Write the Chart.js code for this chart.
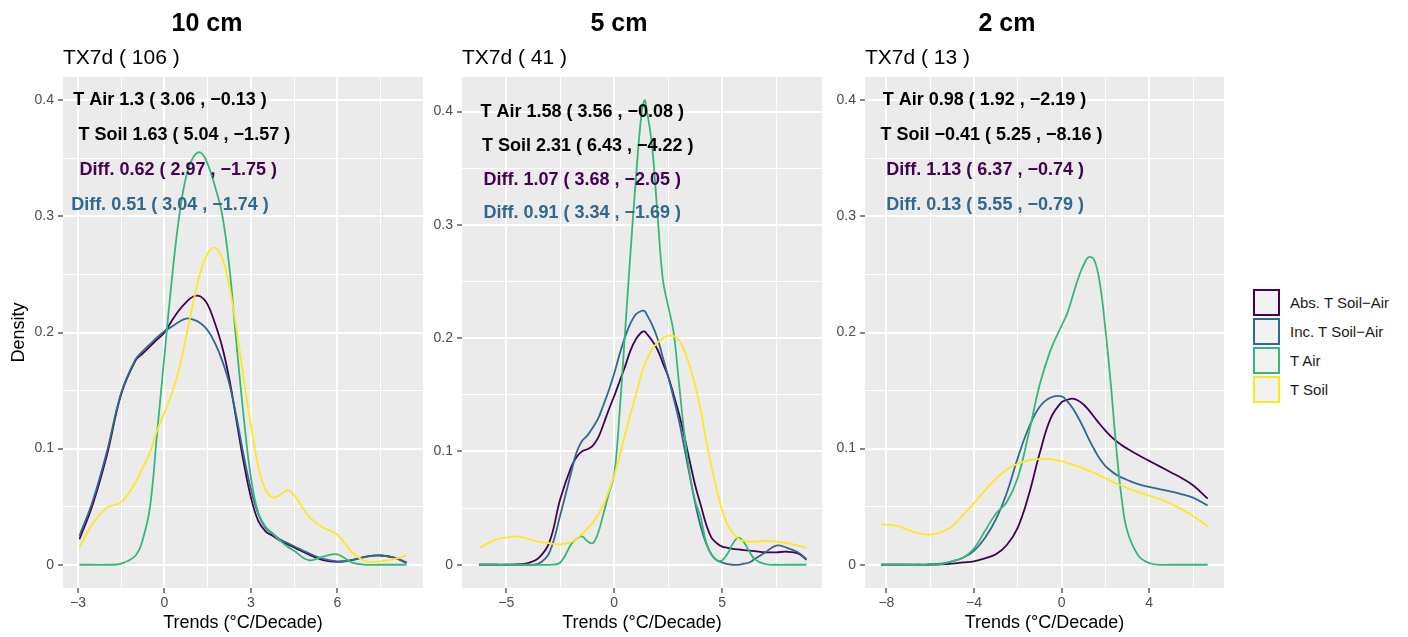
<!DOCTYPE html>
<html>
<head>
<meta charset="utf-8">
<title>TX7d trend densities</title>
<script src="https://cdn.jsdelivr.net/npm/chart.js@4.4.1/dist/chart.umd.min.js"></script>
<style>
  body { margin: 0; background: #ffffff; font-family: "Liberation Sans", Arial, sans-serif; }
  #wrap { position: relative; width: 1408px; height: 637px; overflow: hidden; }
  #wrap canvas { position: absolute; top: 0; }
  .title { position: absolute; top: 8px; font-size: 25px; line-height: 28px; font-weight: bold; transform: translateX(-50%); white-space: nowrap; color: #000; }
  .sub { position: absolute; top: 45px; font-size: 21px; line-height: 24px; white-space: nowrap; color: #000; }
  #legend { position: absolute; left: 1253px; top: 289px; }
  .item { position: relative; height: 29px; width: 150px; }
  .key { position: absolute; left: 0; top: 0; width: 27px; height: 27px; box-sizing: border-box; border: 2px solid; background: #F2F2F2; }
  .lab { position: absolute; left: 37px; top: 0; line-height: 27px; font-size: 15px; color: #1a1a1a; white-space: nowrap; }
</style>
</head>
<body>
<div id="wrap">
  <canvas id="c10" width="440" height="637" style="left:0px"></canvas>
  <canvas id="c5" width="415" height="637" style="left:425px"></canvas>
  <canvas id="c2" width="410" height="637" style="left:830px"></canvas>
  <div id="legend"></div>
</div>
<script>
var seriesNames = ['Abs. T Soil\u2212Air', 'Inc. T Soil\u2212Air', 'T Air', 'T Soil'];
var seriesColors = ['#440154', '#31688E', '#35B779', '#FDE725'];

var depths = ['10 cm', '5 cm', '2 cm'];
var stationCounts = [106, 41, 13];

// 10 cm
var x10 = [-2.95, -2.5, -2, -1.5, -1, -0.75, -0.5, -0.25, 0, 0.25, 0.5, 0.75, 1, 1.25, 1.5, 1.75, 2, 2.25, 2.5, 2.75, 3, 3.25, 3.5, 3.75, 4, 4.25, 4.5, 5, 5.5, 6, 6.5, 7, 7.5, 8, 8.4];
var abs10 = [0.022, 0.051, 0.094, 0.147, 0.176, 0.182, 0.188, 0.194, 0.2, 0.21, 0.219, 0.226, 0.231, 0.231, 0.224, 0.208, 0.188, 0.16, 0.124, 0.088, 0.058, 0.038, 0.029, 0.025, 0.021, 0.018, 0.015, 0.009, 0.004, 0.0025, 0.004, 0.007, 0.008, 0.006, 0.0015];
var inc10 = [0.025, 0.054, 0.097, 0.148, 0.177, 0.184, 0.19, 0.196, 0.201, 0.205, 0.209, 0.212, 0.211, 0.208, 0.202, 0.191, 0.176, 0.156, 0.127, 0.094, 0.065, 0.044, 0.032, 0.027, 0.022, 0.019, 0.016, 0.01, 0.005, 0.003, 0.004, 0.007, 0.008, 0.006, 0.002];
var air10 = [0, 0, 0, 0.001, 0.008, 0.022, 0.05, 0.115, 0.18, 0.244, 0.298, 0.334, 0.351, 0.355, 0.345, 0.326, 0.302, 0.257, 0.19, 0.127, 0.075, 0.045, 0.033, 0.027, 0.021, 0.016, 0.012, 0.004, 0.007, 0.009, 0.002, 0, 0, 0, 0];
var soil10 = [0.015, 0.035, 0.049, 0.054, 0.071, 0.084, 0.097, 0.116, 0.131, 0.147, 0.168, 0.196, 0.226, 0.252, 0.268, 0.273, 0.264, 0.24, 0.203, 0.16, 0.12, 0.085, 0.065, 0.058, 0.06, 0.064, 0.06, 0.042, 0.032, 0.026, 0.011, 0.003, 0.003, 0.005, 0.008];

// 5 cm
var x5 = [-6.25, -5.5, -5, -4.5, -4, -3.5, -3, -2.5, -2, -1.75, -1.5, -1.25, -1, -0.75, -0.5, -0.25, 0, 0.25, 0.5, 0.75, 1, 1.25, 1.4, 1.5, 1.75, 2, 2.25, 2.5, 2.75, 3, 3.25, 3.5, 3.75, 4, 4.25, 4.5, 4.75, 5, 5.25, 5.5, 5.75, 6, 6.25, 6.5, 7, 7.5, 8, 8.5, 8.9];
var abs5 = [0, 0, 0, 0.0003, 0.0015, 0.006, 0.02, 0.058, 0.086, 0.095, 0.1, 0.102, 0.105, 0.112, 0.124, 0.137, 0.149, 0.162, 0.175, 0.189, 0.199, 0.205, 0.206, 0.204, 0.198, 0.19, 0.178, 0.166, 0.15, 0.133, 0.113, 0.091, 0.07, 0.053, 0.036, 0.024, 0.019, 0.016, 0.015, 0.014, 0.0135, 0.013, 0.0125, 0.012, 0.011, 0.011, 0.0115, 0.01, 0.0045];
var inc5 = [0, 0, 0, 0, 0, 0.001, 0.011, 0.044, 0.081, 0.099, 0.109, 0.114, 0.121, 0.129, 0.141, 0.154, 0.169, 0.186, 0.201, 0.213, 0.221, 0.224, 0.224, 0.221, 0.212, 0.2, 0.183, 0.166, 0.147, 0.127, 0.103, 0.078, 0.054, 0.034, 0.019, 0.009, 0.004, 0.002, 0.0005, 0, 0, 0.001, 0.002, 0.005, 0.011, 0.017, 0.015, 0.011, 0.005];
var air5 = [0, 0, 0, 0, 0, 0, 0, 0.002, 0.018, 0.023, 0.025, 0.021, 0.019, 0.028, 0.045, 0.063, 0.08, 0.135, 0.205, 0.275, 0.34, 0.396, 0.41, 0.402, 0.37, 0.31, 0.252, 0.228, 0.205, 0.16, 0.115, 0.08, 0.056, 0.042, 0.02, 0.009, 0.004, 0.004, 0.01, 0.019, 0.024, 0.02, 0.012, 0.005, 0.0005, 0, 0, 0, 0];
var soil5 = [0.015, 0.022, 0.024, 0.025, 0.023, 0.0205, 0.019, 0.018, 0.02, 0.023, 0.027, 0.032, 0.037, 0.044, 0.053, 0.065, 0.079, 0.096, 0.115, 0.133, 0.15, 0.168, 0.176, 0.181, 0.19, 0.196, 0.2, 0.202, 0.202, 0.198, 0.189, 0.175, 0.158, 0.137, 0.11, 0.087, 0.066, 0.048, 0.035, 0.028, 0.023, 0.021, 0.0205, 0.0205, 0.021, 0.0205, 0.019, 0.017, 0.015];

// 2 cm
var x2 = [-8.23, -7.5, -7, -6.5, -6, -5.5, -5, -4.5, -4, -3.5, -3, -2.5, -2, -1.5, -1, -0.5, 0, 0.25, 0.5, 0.75, 1, 1.25, 1.5, 1.75, 2, 2.25, 2.5, 2.75, 3, 3.5, 4, 4.5, 5, 5.5, 6, 6.67];
var abs2 = [0, 0, 0, 0, 0, 0.0003, 0.001, 0.002, 0.003, 0.0055, 0.009, 0.017, 0.032, 0.06, 0.096, 0.126, 0.14, 0.142, 0.143, 0.1415, 0.138, 0.133, 0.127, 0.121, 0.1155, 0.1105, 0.1065, 0.103, 0.1, 0.0945, 0.0895, 0.0845, 0.0795, 0.0745, 0.0685, 0.057];
var inc2 = [0, 0, 0, 0, 0.0005, 0.001, 0.003, 0.006, 0.012, 0.023, 0.039, 0.062, 0.092, 0.118, 0.136, 0.144, 0.145, 0.141, 0.135, 0.127, 0.118, 0.108, 0.099, 0.091, 0.085, 0.081, 0.0775, 0.075, 0.073, 0.0695, 0.067, 0.065, 0.063, 0.0607, 0.0578, 0.051];
var air2 = [0, 0, 0, 0, 0, 0.0005, 0.003, 0.006, 0.014, 0.029, 0.044, 0.054, 0.075, 0.113, 0.155, 0.185, 0.206, 0.216, 0.231, 0.246, 0.258, 0.265, 0.262, 0.242, 0.203, 0.155, 0.1, 0.056, 0.029, 0.008, 0.0015, 0, 0, 0, 0, 0];
var soil2 = [0.035, 0.0335, 0.03, 0.027, 0.026, 0.028, 0.033, 0.043, 0.053, 0.064, 0.074, 0.082, 0.087, 0.09, 0.091, 0.091, 0.089, 0.0878, 0.0864, 0.0848, 0.083, 0.081, 0.079, 0.0768, 0.0745, 0.0722, 0.07, 0.068, 0.066, 0.0625, 0.0595, 0.0565, 0.0525, 0.0475, 0.042, 0.033];

// summary labels: mean ( max , min )
var notes10 = ['T Air 1.3 ( 3.06 , \u22120.13 )', 'T Soil 1.63 ( 5.04 , \u22121.57 )', 'Diff. 0.62 ( 2.97 , \u22121.75 )', 'Diff. 0.51 ( 3.04 , \u22121.74 )'];
var notes5 = ['T Air 1.58 ( 3.56 , \u22120.08 )', 'T Soil 2.31 ( 6.43 , \u22124.22 )', 'Diff. 1.07 ( 3.68 , \u22122.05 )', 'Diff. 0.91 ( 3.34 , \u22121.69 )'];
var notes2 = ['T Air 0.98 ( 1.92 , \u22122.19 )', 'T Soil \u22120.41 ( 5.25 , \u22128.16 )', 'Diff. 1.13 ( 6.37 , \u22120.74 )', 'Diff. 0.13 ( 5.55 , \u22120.79 )'];
var noteColors = ['#000000', '#000000', '#440154', '#31688E'];

var FONT = '"Liberation Sans", Arial, sans-serif';

var panels = [
  { id: 'c10', axisW: 63, padR: 17, xMin: -3.52, xMax: 8.97, xStep: 1.5, yMin: -0.02, yMax: 0.42,
    xs: x10, ys: [abs10, inc10, air10, soil10], notes: notes10, noteX: [0.19, 0.69, 0.48, 0.19], yTitle: true, titleX: 207, subX: 63 },
  { id: 'c5', axisW: 37, padR: 18, xMin: -7.05, xMax: 9.62, xStep: 2.5, yMin: -0.0205, yMax: 0.4305,
    xs: x5, ys: [abs5, inc5, air5, soil5], notes: notes5, noteX: [-1.48, -1.23, -1.48, -1.48], yTitle: false, titleX: 619, subX: 462 },
  { id: 'c2', axisW: 35, padR: 16, xMin: -8.975, xMax: 7.415, xStep: 2, yMin: -0.02, yMax: 0.42,
    xs: x2, ys: [abs2, inc2, air2, soil2], notes: notes2, noteX: [-3.52, -3.2, -3.49, -3.49], yTitle: false, titleX: 1007, subX: 865 }
];
var noteY = [0.4, 0.37, 0.34, 0.31];

function isMajor(v, step) {
  var r = v / (2 * step);
  return Math.abs(r - Math.round(r)) < 1e-6;
}

function fmt(v) {
  var n = Number(v.toFixed(2));
  return n < 0 ? '\u2212' + Math.abs(n) : String(n);
}

// grey panel background like ggplot
var panelBg = {
  id: 'panelBg',
  beforeDraw: function (chart) {
    var a = chart.chartArea;
    var ctx = chart.ctx;
    ctx.save();
    ctx.fillStyle = '#EBEBEB';
    ctx.fillRect(a.left, a.top, a.right - a.left, a.bottom - a.top);
    ctx.restore();
  }
};

function notesPlugin(p) {
  return {
    id: 'notes',
    afterDatasetsDraw: function (chart) {
      var ctx = chart.ctx;
      var xs = chart.scales.x, ys = chart.scales.y;
      ctx.save();
      ctx.font = 'bold 18px ' + FONT;
      ctx.textAlign = 'center';
      ctx.textBaseline = 'middle';
      p.notes.forEach(function (t, i) {
        ctx.fillStyle = noteColors[i];
        ctx.fillText(t, xs.getPixelForValue(p.noteX[i]), ys.getPixelForValue(noteY[i]));
      });
      ctx.restore();
    }
  };
}

function makeChart(p, k) {
  var datasets = p.ys.map(function (vals, s) {
    return {
      label: seriesNames[s],
      data: p.xs.map(function (x, i) { return { x: x, y: vals[i] }; }),
      borderColor: seriesColors[s],
      borderWidth: 1.8,
      pointRadius: 0,
      fill: false,
      tension: 0.4,
      order: 3 - s
    };
  });

  new Chart(document.getElementById(p.id), {
    type: 'line',
    data: { datasets: datasets },
    options: {
      responsive: false,
      animation: false,
      devicePixelRatio: 1,
      layout: { padding: { top: 77, right: p.padR, bottom: 0, left: 0 } },
      plugins: { legend: { display: false }, tooltip: { enabled: false } },
      scales: {
        x: {
          type: 'linear',
          min: p.xMin,
          max: p.xMax,
          border: { display: false },
          grid: {
            color: '#ffffff',
            lineWidth: function (c) { return c.tick && isMajor(c.tick.value, p.xStep) ? 2 : 1; },
            tickColor: function (c) { return c.tick && isMajor(c.tick.value, p.xStep) ? '#333333' : 'rgba(0,0,0,0)'; },
            tickWidth: 1.2,
            tickLength: 5
          },
          ticks: {
            stepSize: p.xStep,
            includeBounds: false,
            autoSkip: false,
            maxRotation: 0,
            padding: 2,
            color: '#4D4D4D',
            font: { size: 14, family: FONT },
            callback: function (v) { return isMajor(v, p.xStep) ? fmt(v) : ''; }
          },
          title: {
            display: true,
            text: 'Trends (\u00B0C/Decade)',
            color: '#000000',
            font: { size: 18, family: FONT },
            padding: { top: 0, bottom: 3 }
          },
          afterFit: function (s) { s.height = 49; }
        },
        y: {
          type: 'linear',
          min: p.yMin,
          max: p.yMax,
          border: { display: false },
          grid: {
            color: '#ffffff',
            lineWidth: function (c) { return c.tick && isMajor(c.tick.value, 0.05) ? 2 : 1; },
            tickColor: function (c) { return c.tick && isMajor(c.tick.value, 0.05) ? '#333333' : 'rgba(0,0,0,0)'; },
            tickWidth: 1.2,
            tickLength: 5
          },
          ticks: {
            stepSize: 0.05,
            includeBounds: false,
            autoSkip: false,
            padding: 4,
            color: '#4D4D4D',
            font: { size: 14, family: FONT },
            callback: function (v) { return isMajor(v, 0.05) ? fmt(v) : ''; }
          },
          title: {
            display: p.yTitle,
            text: 'Density',
            color: '#000000',
            font: { size: 18, family: FONT },
            padding: { top: 8, bottom: 0 }
          },
          afterFit: function (s) { s.width = p.axisW; }
        }
      }
    },
    plugins: [panelBg, notesPlugin(p)]
  });

  var wrap = document.getElementById('wrap');
  var t = document.createElement('div');
  t.className = 'title';
  t.style.left = p.titleX + 'px';
  t.textContent = depths[k];
  wrap.appendChild(t);
  var st = document.createElement('div');
  st.className = 'sub';
  st.style.left = p.subX + 'px';
  st.textContent = 'TX7d ( ' + stationCounts[k] + ' )';
  wrap.appendChild(st);
}

panels.forEach(makeChart);

var legend = document.getElementById('legend');
seriesNames.forEach(function (name, i) {
  var item = document.createElement('div');
  item.className = 'item';
  item.innerHTML = '<div class="key" style="border-color:' + seriesColors[i] + '"></div><div class="lab">' + name + '</div>';
  legend.appendChild(item);
});
</script>
</body>
</html>
